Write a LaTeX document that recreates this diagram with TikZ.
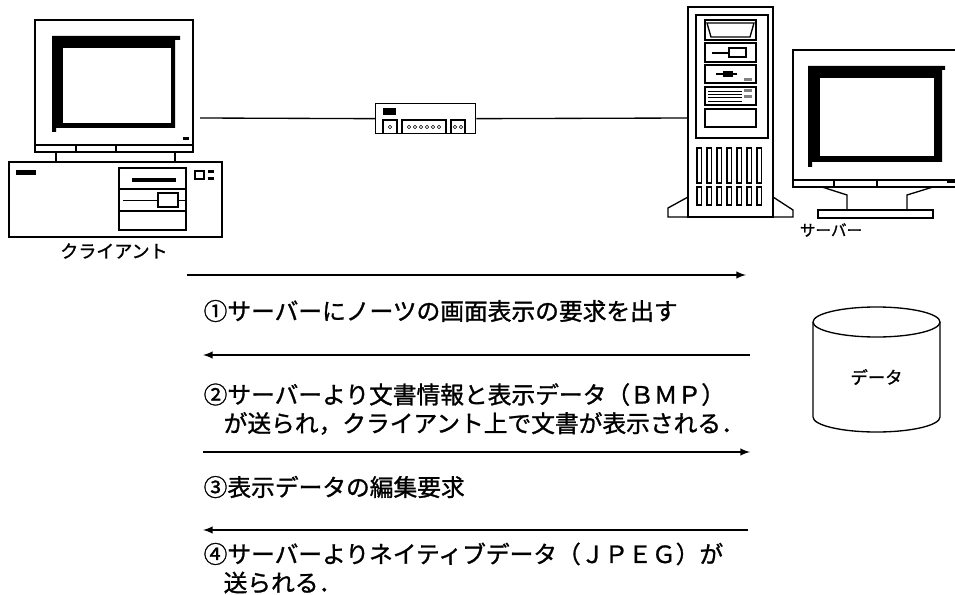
\documentclass[tikz,border=0pt]{standalone}
\usepackage{fontspec}
\setmainfont{Noto Sans CJK JP}[RawFeature={embolden=1.2}]

\tikzset{
	msg/.style={line width=1.5pt, -latex},
	pas/.style={anchor=west, inner sep=0pt, align=left, font=\fontsize{17.8}{21.5}\selectfont},
}

\begin{document}
\begin{tikzpicture}[x=0.75pt, y=-0.75pt, line width=1pt]
				\useasboundingbox (0,0) rectangle (955,595);
				% ordinador client, pantalla
				\draw (35,20) rectangle (193,145);
				\draw (35,145) rectangle (193,152);
				\draw (76,145) -- (76,152);
				\draw (116,145) -- (116,152);
				\fill (52,36) -- (180,36) -- (180,40) -- (175,40) -- (175,128) -- (56,128) -- (56,132) -- (52,132) -- cycle;
				\filldraw[fill = white, line width = 0.5pt] (62,47) rectangle (171,123);
				\fill (183,137) rectangle (189,140);
				\draw (56,152) -- (56,162);
				\draw (175,152) -- (175,162);
				% ordinador client, caixa
				\draw (9,162) rectangle (222,237);
				\fill (16,170) rectangle (36,175);
				\draw (119,168) rectangle (186,230);
				\draw (119,189) -- (186,189);
				\draw (119,211) -- (186,211);
				\fill (132,178) rectangle (176,182);
				\draw[line width = 0.5pt] (123,200) -- (185,200);
				\filldraw[fill = white] (158,193) rectangle (178,207);
				\draw (195,171) rectangle (204,179);
				\fill (208,170) rectangle (214,173);
				\fill (208,177) rectangle (214,180);
				\node[font = \fontsize{13.5}{16}\selectfont] (client) at (114,251) {クライアント};
				\coordinate (cliport) at (200,118);
				% concentrador
				\node[draw, anchor = north west, minimum width = 75pt, minimum height = 22.5pt, inner sep = 0pt] (hub) at (375,103) {};
				\fill (383,108) rectangle (396,115);
				\draw (383,133) -- (383,120) -- (397,120) -- (397,133);
				\draw (402,133) -- (402,120) -- (446,120) -- (446,133);
				\draw (451,133) -- (451,120) -- (465,120) -- (465,133);
				\draw[line width = 0.4pt] (390,127) circle (1.8);
				\foreach \x in {409,415,421,427,433,439}
					\draw[line width = 0.4pt] (\x,127) circle (1.8);
				\draw[line width = 0.4pt] (455,127) circle (1.8);
				\draw[line width = 0.4pt] (461,127) circle (1.8);
				% servidor
				\draw (688,7) rectangle (773,217);
				\draw (696,15) rectangle (768,138);
				\draw (705,20) rectangle (756,40);
				\draw (707,23) -- (754,23) -- (750,37) -- (711,37) -- cycle;
				\draw (705,43) rectangle (756,62);
				\draw (712,53) -- (746,53);
				\filldraw[fill = white] (729,48) rectangle (746,57);
				\draw (705,65) rectangle (756,83);
				\draw (716,74) -- (737,74);
				\fill (723,71) rectangle (733,77);
				\fill[gray] (744,78) rectangle (752,81);
				\draw (705,87) rectangle (756,105);
				\draw[line width = 0.5pt] (708,91) -- (742,91) (708,94) -- (742,94) (708,97) -- (742,97) (708,101) -- (742,101);
				\fill[gray] (744,89) rectangle (752,92);
				\fill[gray] (744,95) rectangle (752,98);
				\draw (705,109) rectangle (756,127);
				\foreach \i in {0,...,6} {
					\draw (697+10*\i,148) rectangle ++(4.5,35);
					\draw (697+10*\i,187) rectangle ++(4.5,18);
				}
				\draw (688,197) -- (668,208) -- (668,217) -- (688,217);
				\draw (773,197) -- (793,210) -- (793,217) -- (773,217);
				\coordinate (srvport) at (688,118);
				% pantalla del servidor
				\draw (958,50) -- (793,50) -- (793,187) -- (958,187);
				\draw (793,180) -- (958,180);
				\draw (834,180) -- (834,187);
				\draw (877,180) -- (877,187);
				\fill (808,66) -- (945,66) -- (945,70) -- (942,70) -- (942,162) -- (812,162) -- (812,167) -- (808,167) -- cycle;
				\filldraw[fill = white, line width = 0.5pt] (819,77) rectangle (934,156);
				\fill (947,180) rectangle (955,183);
				\draw (822,187) -- (847,195) -- (847,210);
				\draw (933,187) -- (907,195) -- (907,210);
				\draw (818,210) rectangle (933,218);
				\node[font = \fontsize{11.7}{14}\selectfont] (server) at (831,230) {サーバー};
				% xarxa
				\draw (cliport) -- (hub.west);
				\draw (hub.east) -- (srvport);
				% base de dades
				\draw (813,322) -- (813,417) arc (180:0:63.5 and 15) -- (940,322);
				\draw (876.5,322) ellipse (63.5 and 15);
				\node[font = \fontsize{13}{16}\selectfont] (db) at (876.5,377) {データ};
				% missatges
				\coordinate (c1) at (187,275);
				\coordinate (s1) at (746,275);
				\coordinate (s2) at (750,355);
				\coordinate (c2) at (203,355);
				\coordinate (c3) at (203,452);
				\coordinate (s3) at (750,452);
				\coordinate (s4) at (748,530);
				\coordinate (c4) at (203,530);
				\draw[msg] (c1) -- (s1);
				\node[pas] (p1) at (203,311) {①サーバーにノーツの画面表示の要求を出す};
				\draw[msg] (s2) -- (c2);
				\node[pas] (p2) at (203,409) {②サーバーより文書情報と表示データ（ＢＭＰ）\\\hspace*{15pt}が送られ，クライアント上で文書が表示される．};
				\draw[msg] (c3) -- (s3);
				\node[pas] (p3) at (203,487) {③表示データの編集要求};
				\draw[msg] (s4) -- (c4);
				\node[pas] (p4) at (203,568) {④サーバーよりネイティブデータ（ＪＰＥＧ）が\\\hspace*{15pt}送られる．};
			\end{tikzpicture}
\end{document}
